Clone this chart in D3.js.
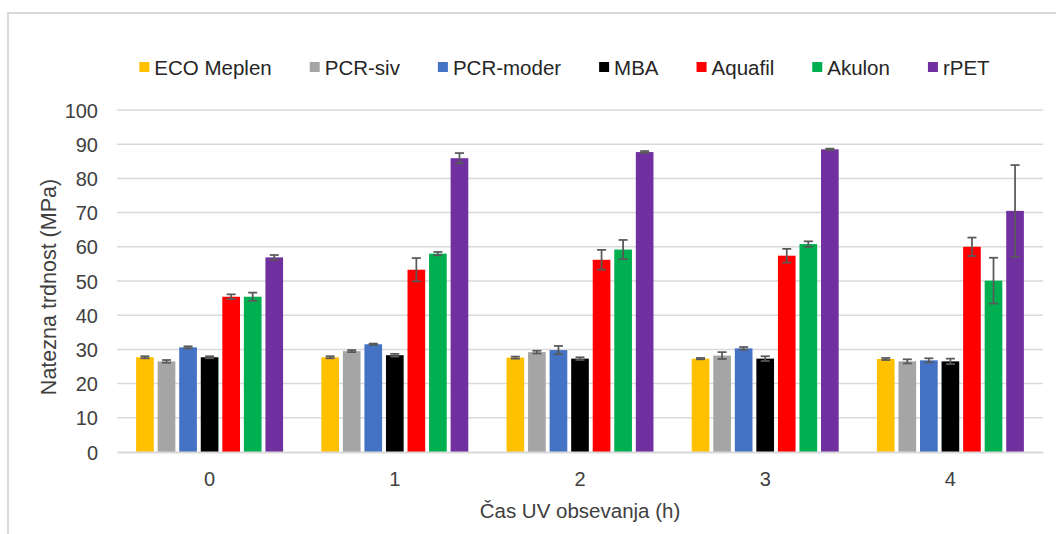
<!DOCTYPE html>
<html>
<head>
<meta charset="utf-8">
<script src="https://cdn.jsdelivr.net/npm/d3@7"></script>
<style>
  html, body { margin: 0; padding: 0; background: #fff; }
  svg { display: block; font-family: "Liberation Sans", Arial, sans-serif; }
</style>
</head>
<body>
<svg id="chart" width="1056" height="534"></svg>
<script>
// UV exposure time (h)
const categories = ["0", "1", "2", "3", "4"];

const seriesNames = ["ECO Meplen", "PCR-siv", "PCR-moder", "MBA", "Aquafil", "Akulon", "rPET"];
const seriesColors = ["#FFC000", "#A5A5A5", "#4472C4", "#000000", "#FF0000", "#00B050", "#7030A0"];

// Tensile strength (MPa), one value per exposure time
const ecoMeplen = [27.7, 27.7, 27.6, 27.3, 27.2];
const pcrSiv    = [26.5, 29.5, 29.2, 28.2, 26.5];
const pcrModer  = [30.6, 31.5, 29.8, 30.3, 26.8];
const mba       = [27.7, 28.3, 27.3, 27.3, 26.5];
const aquafil   = [45.4, 53.3, 56.2, 57.4, 60.0];
const akulon    = [45.4, 58.0, 59.2, 60.8, 50.1];
const rPET      = [56.9, 85.9, 87.7, 88.5, 70.5];

// Standard deviations
const ecoMeplenErr = [0.3, 0.3, 0.3, 0.2, 0.3];
const pcrSivErr    = [0.4, 0.3, 0.4, 1.0, 0.6];
const pcrModerErr  = [0.3, 0.2, 1.2, 0.4, 0.6];
const mbaErr       = [0.3, 0.4, 0.4, 0.7, 0.8];
const aquafilErr   = [0.7, 3.4, 2.9, 2.0, 2.7];
const akulonErr    = [1.2, 0.5, 2.8, 0.8, 6.7];
const rPETErr      = [0.7, 1.5, 0.3, 0.2, 13.4];

const yTicks = [0, 10, 20, 30, 40, 50, 60, 70, 80, 90, 100];

const seriesValues = [ecoMeplen, pcrSiv, pcrModer, mba, aquafil, akulon, rPET];
const seriesErrors = [ecoMeplenErr, pcrSivErr, pcrModerErr, mbaErr, aquafilErr, akulonErr, rPETErr];

const rows = [];
categories.forEach((c, ci) => {
  seriesNames.forEach((s, si) => {
    rows.push({ cat: c, series: s, color: seriesColors[si],
                value: seriesValues[si][ci], err: seriesErrors[si][ci] });
  });
});

const svg = d3.select("#chart");
const W = 1056, H = 534;
const plot = { left: 117, right: 1043, top: 110, bottom: 452 };

svg.append("rect").attr("width", W).attr("height", H).attr("fill", "#fff");

// chart area outline
svg.append("path")
  .attr("d", `M8,${H} V13 H${W}`)
  .attr("fill", "none")
  .attr("stroke", "#d9d9d9")
  .attr("stroke-width", 2);

const y = d3.scaleLinear().domain([0, 100]).range([plot.bottom, plot.top]);
const x0 = d3.scaleBand().domain(categories).range([plot.left, plot.right]).paddingInner(0).paddingOuter(0);
const x1 = d3.scaleBand().domain(seriesNames).range([0, x0.bandwidth()]).paddingInner(0.18).paddingOuter(0.887);

// horizontal gridlines
svg.append("g")
  .selectAll("line")
  .data(yTicks.filter(t => t > 0))
  .join("line")
  .attr("x1", plot.left).attr("x2", plot.right)
  .attr("y1", d => y(d)).attr("y2", d => y(d))
  .attr("stroke", "#d9d9d9").attr("stroke-width", 1.5);

// y axis labels
const yAxis = d3.axisLeft(y).tickValues(yTicks).tickSize(0).tickPadding(19);
const gy = svg.append("g").attr("transform", `translate(${plot.left},0)`).call(yAxis);
gy.select(".domain").remove();
gy.selectAll("text")
  .attr("font-size", 20)
  .attr("font-family", "Liberation Sans, Arial, sans-serif")
  .attr("fill", "#404040")
  .attr("dy", "0.35em");

// bars
const barG = svg.append("g");
barG.selectAll("rect")
  .data(rows)
  .join("rect")
  .attr("x", d => x0(d.cat) + x1(d.series))
  .attr("width", x1.bandwidth())
  .attr("y", d => y(d.value))
  .attr("height", d => y(0) - y(d.value))
  .attr("fill", d => d.color);

// error bars
const errG = svg.append("g").attr("stroke", "#595959").attr("stroke-width", 1.75).attr("fill", "none");
const capHalf = 4.5;
rows.forEach(d => {
  const cx = x0(d.cat) + x1(d.series) + x1.bandwidth() / 2;
  const yHi = y(d.value + d.err), yLo = y(d.value - d.err);
  errG.append("line").attr("x1", cx).attr("x2", cx).attr("y1", yHi).attr("y2", yLo);
  errG.append("line").attr("x1", cx - capHalf).attr("x2", cx + capHalf).attr("y1", yHi).attr("y2", yHi);
  errG.append("line").attr("x1", cx - capHalf).attr("x2", cx + capHalf).attr("y1", yLo).attr("y2", yLo);
});

// x axis
const xAxis = d3.axisBottom(x0).tickSize(0).tickPadding(20);
const gx = svg.append("g").attr("transform", `translate(0,${plot.bottom})`).call(xAxis);
gx.select(".domain").attr("stroke", "#d9d9d9").attr("stroke-width", 2);
gx.selectAll("text")
  .attr("font-size", 20)
  .attr("font-family", "Liberation Sans, Arial, sans-serif")
  .attr("fill", "#404040")
  .attr("dy", "0.71em");

// axis titles
svg.append("text")
  .attr("x", 580).attr("y", 518)
  .attr("text-anchor", "middle")
  .attr("font-size", 20.5)
  .attr("fill", "#404040")
  .text("Čas UV obsevanja (h)");

svg.append("text")
  .attr("transform", "translate(56,287) rotate(-90)")
  .attr("text-anchor", "middle")
  .attr("font-size", 21.5)
  .attr("fill", "#404040")
  .text("Natezna trdnost (MPa)");

// legend
const legend = svg.append("g");
const items = legend.selectAll("g")
  .data(seriesNames.map((s, i) => ({ name: s, color: seriesColors[i] })))
  .join("g");
items.append("rect")
  .attr("width", 10).attr("height", 10)
  .attr("y", 62)
  .attr("fill", d => d.color);
items.append("text")
  .attr("x", 15).attr("y", 75)
  .attr("font-size", 20.5)
  .attr("fill", "#262626")
  .text(d => d.name);

let cursor = 0;
const offsets = [];
items.each(function () {
  const w = d3.select(this).select("text").node().getComputedTextLength();
  offsets.push(cursor);
  cursor += 15 + w + 38;
});
const totalW = cursor - 38;
const startX = 564.5 - totalW / 2;
items.attr("transform", (d, i) => `translate(${startX + offsets[i]},0)`);
</script>
</body>
</html>
